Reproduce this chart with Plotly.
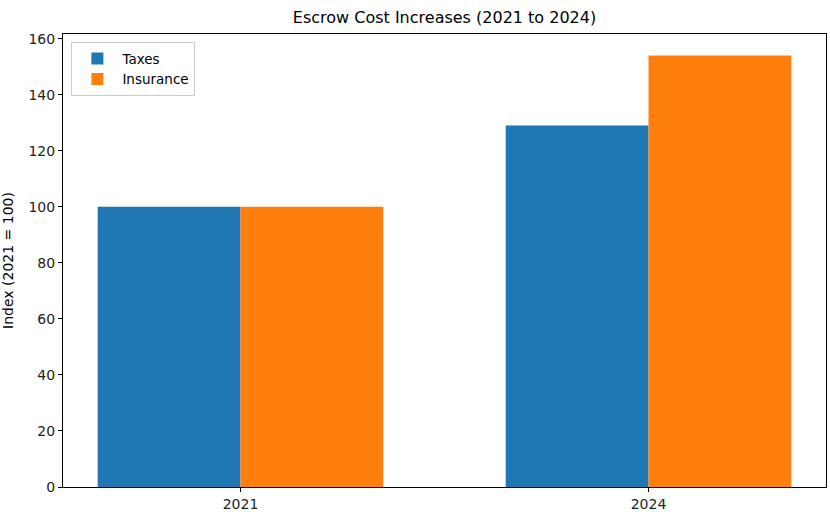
import plotly.graph_objects as go

years = ["2021", "2024"]
taxes = [100, 129]
insurance = [100, 154]

font = "DejaVu Sans"
fig = go.Figure()
fig.add_bar(x=years, y=taxes, name="Taxes", marker=dict(color="#1f77b4", line=dict(width=0)))
fig.add_bar(x=years, y=insurance, name="Insurance", marker=dict(color="#ff7f0e", line=dict(width=0)))

fig.update_layout(
    width=830, height=512,
    barmode="group", bargap=0.3, bargroupgap=0,
    paper_bgcolor="white", plot_bgcolor="white",
    margin=dict(l=63, r=4, t=34, b=25, autoexpand=False),
    font=dict(family=font, size=14, color="#222222"),
    title=dict(text="Escrow Cost Increases (2021 to 2024)", x=0.5, xref="paper",
               y=1, yref="container", yanchor="top", pad=dict(t=12),
               font=dict(size=16, color="black")),
    legend=dict(x=0.011, y=0.982, xanchor="left", yanchor="top",
                bgcolor="rgba(255,255,255,0.8)", bordercolor="#cccccc", borderwidth=1,
                font=dict(size=13.5, color="black"), itemwidth=40),
    showlegend=True,
)
fig.update_xaxes(type="category", range=[-0.435, 1.435], showline=True, linecolor="black",
                 linewidth=1, mirror=True, ticks="outside", ticklen=4, tickcolor="black",
                 showgrid=False, zeroline=False, automargin=False)
fig.update_yaxes(range=[0, 161.7], showline=True, linecolor="black", linewidth=1, mirror=True,
                 ticks="outside", ticklen=4, tickcolor="black", dtick=20, showgrid=False,
                 zeroline=False, automargin=False,
                 title=dict(text="Index (2021 = 100)", standoff=11,
                            font=dict(size=14, color="black")))

fig.write_html("out.html", config={"displayModeBar": False},
               post_script="document.body.style.margin='0';document.body.style.overflow='hidden';")
